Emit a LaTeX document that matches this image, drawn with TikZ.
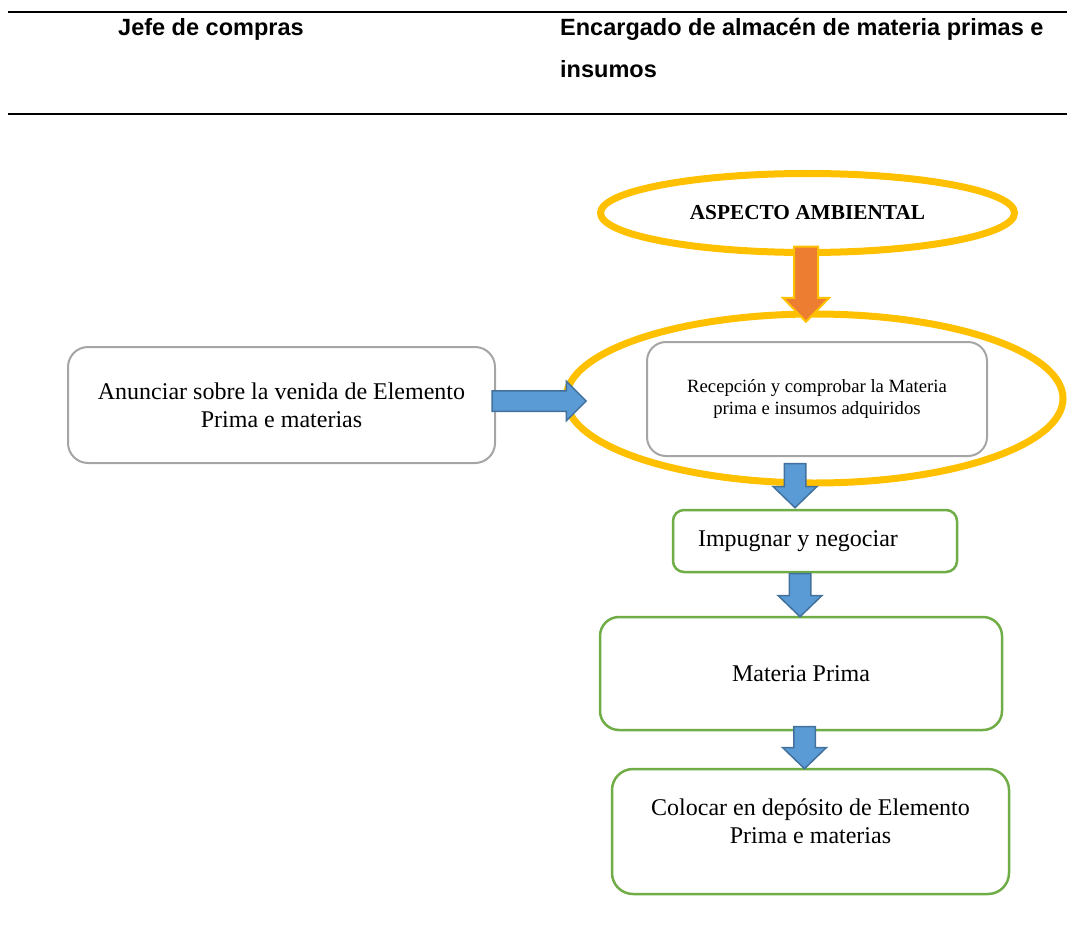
\documentclass[tikz,border=0pt]{standalone}
\usepackage{fontspec}
\setmainfont{Liberation Serif}
\newfontfamily\headfont{Liberation Sans}
\usetikzlibrary{positioning,shapes.geometric,shapes.arrows}

\definecolor{ringyellow}{HTML}{FFC000}
\definecolor{arroworange}{HTML}{ED7D31}
\definecolor{arrowblue}{HTML}{5B9BD5}
\definecolor{arrowedge}{HTML}{41719C}
\definecolor{boxgreen}{HTML}{70AD47}
\definecolor{boxgray}{HTML}{A5A5A5}

\begin{document}
\begin{tikzpicture}
    [x=1pt,y=-1pt,
     head/.style={font=\headfont\bfseries\fontsize{23.5}{28}\selectfont,anchor=base west,inner sep=0},
     graybox/.style={rectangle,rounded corners=19,draw=boxgray,line width=2,fill=white,align=center},
     greenbox/.style={rectangle,rounded corners=19,draw=boxgreen,line width=2.5,fill=white,align=center,
       font=\fontsize{24}{28}\selectfont},
     ring/.style={ellipse,draw=ringyellow,line width=7,inner sep=0},
     fatarrow/.style={single arrow,draw=arrowedge,fill=arrowblue,line width=1.5,inner xsep=0,inner ysep=10,
       single arrow head extend=11,single arrow tip angle=92,single arrow head indent=0}]

    \useasboundingbox (0,0) rectangle (1067,933);

    % header of the table
    \draw[line width=2.5] (8,12) -- (1067,12);
    \draw[line width=2.5] (8,114) -- (1067,114);
    \node[head] (jefe) at (118,36) {Jefe de compras};
    \node[head] (encargado) at (560,36) {Encargado de almacén de materia primas e};
    \node[head] (insumos) at (560,78) {insumos};

    \node[ring] (aspecto) [minimum width=414,minimum height=79,font=\bfseries\fontsize{21.3}{24}\selectfont]
      at (807.5,213) {ASPECTO AMBIENTAL};

    \node[ring] (recring) [minimum width=497,minimum height=169] at (814.5,398.5) {};

    \node[graybox] (anunciar) [minimum width=427,minimum height=116,rounded corners=20,
      font=\fontsize{24}{27.6}\selectfont] at (281.5,405) {Anunciar sobre la venida de Elemento\\Prima e materias};

    \node[graybox] (recepcion) [minimum width=340,minimum height=114,font=\fontsize{18.7}{21.5}\selectfont]
      at (817,399) {Recepción y comprobar la Materia\\prima e insumos adquiridos};

    \node[greenbox] (impugnar) [rounded corners=11,text width=234,inner xsep=25,align=flush left,minimum height=62]
      at (815,541) {Impugnar y negociar};

    \node[greenbox] (materia) [minimum width=402,minimum height=113] at (801,673.5) {Materia Prima};

    \node[greenbox] (colocar) [minimum width=397,minimum height=125,rounded corners=21] at (810.5,831.5) {};
    \node[align=center,font=\fontsize{24}{28}\selectfont] (colocartext) at (810.5,821)
      {Colocar en depósito de Elemento\\Prima e materias};

    % block arrows
    \node[fatarrow] (aspectoarrow) [rotate=-90,draw=ringyellow,fill=arroworange,line width=2,minimum height=75,
      inner ysep=11,single arrow tip angle=88] at (806,278) {};
    \node[fatarrow] (anunciararrow) [minimum height=94,inner ysep=9.5,single arrow head extend=9.5,
      single arrow tip angle=90] at (534,401) {};
    \node[fatarrow] (recarrow) [rotate=-90,minimum height=44] at (795,480.5) {};
    \node[fatarrow] (impugarrow) [rotate=-90,minimum height=43] at (800,590) {};
    \node[fatarrow] (materiaarrow) [rotate=-90,minimum height=42] at (804.5,742.5) {};
\end{tikzpicture}
\end{document}
